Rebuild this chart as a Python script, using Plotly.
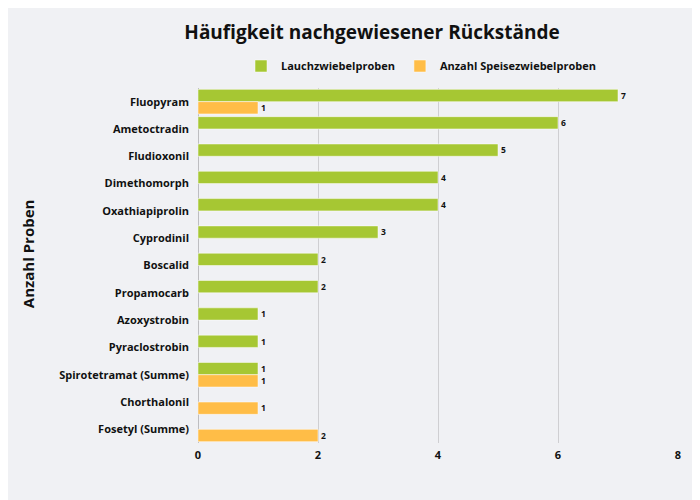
import plotly.graph_objects as go

categories = ["Fluopyram", "Ametoctradin", "Fludioxonil", "Dimethomorph", "Oxathiapiprolin",
              "Cyprodinil", "Boscalid", "Propamocarb", "Azoxystrobin", "Pyraclostrobin",
              "Spirotetramat (Summe)", "Chorthalonil", "Fosetyl (Summe)"]
lauch = [7, 6, 5, 4, 4, 3, 2, 2, 1, 1, 1, None, None]
speise = [1, None, None, None, None, None, None, None, None, None, 1, 1, 2]
x_ticks = [0, 2, 4, 6, 8]

FONT = "Open Sans"

fig = go.Figure()
fig.add_trace(go.Bar(
    y=categories, x=lauch, orientation="h", name="Lauchzwiebelproben",
    marker=dict(color="#a6c733", line=dict(color="#ffffff", width=0.5)),
    text=[str(v) if v is not None else "" for v in lauch], textposition="outside",
    textfont=dict(family=FONT, size=9, color="#111111", weight=700),
    cliponaxis=False,
))
fig.add_trace(go.Bar(
    y=categories, x=speise, orientation="h", name="Anzahl Speisezwiebelproben",
    marker=dict(color="#ffbd47", line=dict(color="#ffffff", width=0.5)),
    text=[str(v) if v is not None else "" for v in speise], textposition="outside",
    textfont=dict(family=FONT, size=9, color="#111111", weight=700),
    cliponaxis=False,
))

fig.update_layout(
    width=700, height=500,
    paper_bgcolor="#f0f1f4", plot_bgcolor="#f0f1f4",
    barmode="group", bargap=0.1, bargroupgap=0.0,
    margin=dict(l=190, r=30, t=80, b=65, autoexpand=False),
    font=dict(family=FONT, size=11, color="#111111", weight=700),
    title=dict(text="Häufigkeit nachgewiesener Rückstände", x=0.52, xanchor="center",
               y=0.952, yanchor="middle",
               font=dict(family=FONT, size=19, color="#111111", weight=700)),
    legend=dict(orientation="h", x=0.59, xref="container", xanchor="center",
                y=0.884, yref="container", yanchor="middle",
                font=dict(family=FONT, size=11, color="#111111", weight=700),
                itemwidth=30, traceorder="normal"),
    xaxis=dict(range=[0, 8], tickvals=x_ticks, showgrid=True, gridcolor="#cfcfd2",
               gridwidth=1, zeroline=True, zerolinecolor="#bdbdc0", zerolinewidth=1,
               tickfont=dict(family=FONT, size=11, color="#111111", weight=700),
               ticks="", showline=False, automargin=False, ticklabelstandoff=4),
    yaxis=dict(autorange="reversed", showgrid=False, ticks="", ticklabelstandoff=8,
               automargin=False,
               tickfont=dict(family=FONT, size=11, color="#111111", weight=700)),
    annotations=[dict(text="Anzahl Proben", textangle=-90, xref="paper", yref="paper",
                      x=-0.354, y=0.532, xanchor="center", yanchor="middle",
                      showarrow=False,
                      font=dict(family=FONT, size=15, color="#111111", weight=700))],
)

fig.write_html("out.html")
